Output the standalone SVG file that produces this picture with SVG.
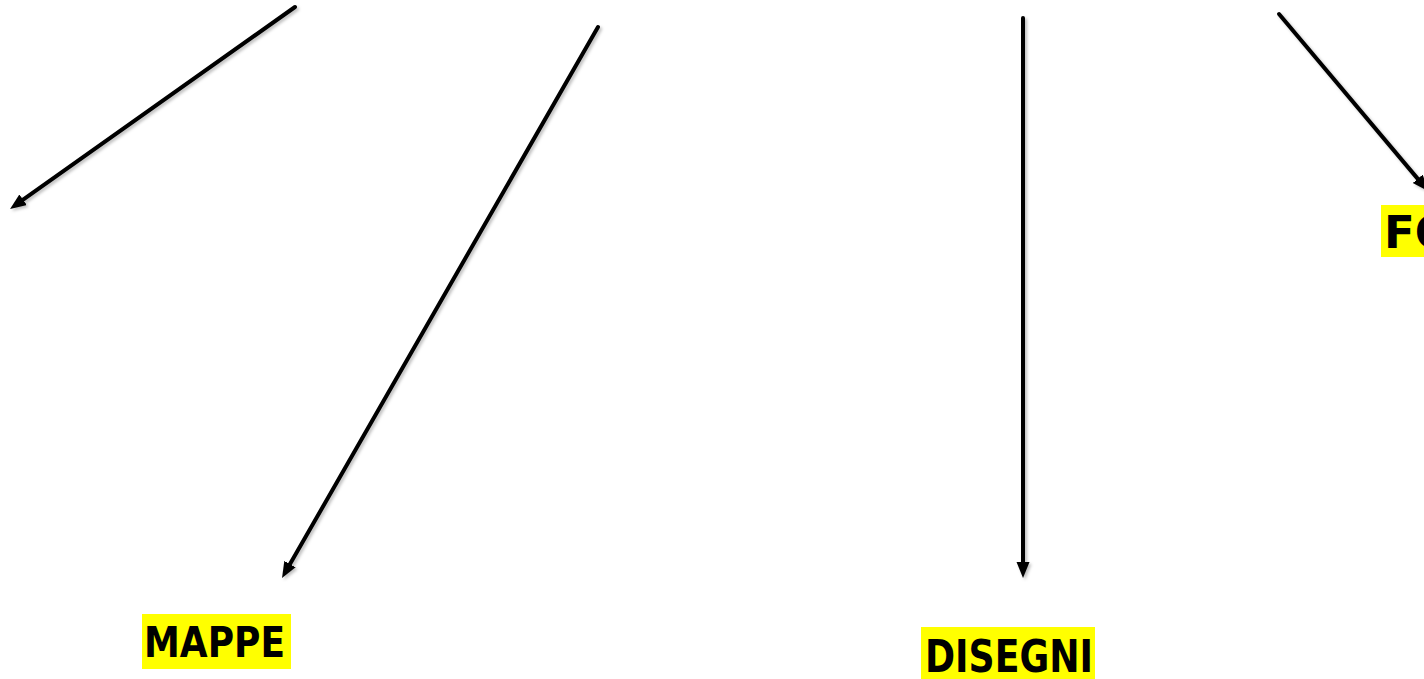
<svg xmlns="http://www.w3.org/2000/svg" width="1424" height="679" viewBox="0 0 1424 679">
  <style>
    .conn { stroke: #000; stroke-width: 4; fill: none; stroke-linecap: round; marker-end: url(#arrow); filter: url(#shadow); }
    .hl { fill: #ffff00; }
    .lbl { font-family: "DejaVu Sans", "Liberation Sans", sans-serif; font-weight: bold; fill: #000; }
  </style>
  <defs>
    <marker id="arrow" markerUnits="userSpaceOnUse" markerWidth="18" markerHeight="14" refX="6" refY="6.5" orient="auto">
      <path d="M0,0 L16,6.5 L0,13 z" fill="#000"/>
    </marker>
    <filter id="shadow" filterUnits="userSpaceOnUse" x="0" y="0" width="1424" height="679">
      <feDropShadow dx="2" dy="2" stdDeviation="1.5" flood-color="#000" flood-opacity="0.25"/>
    </filter>
  </defs>
  <rect width="1424" height="679" fill="#fff"/>
  <g id="connectors">
    <path class="conn" d="M295,7 L18.2,203.2"/>
    <path class="conn" d="M598,27 L287,569.3"/>
    <path class="conn" d="M1023,18 L1023,568"/>
    <path class="conn" d="M1279,14 L1421.6,183.4"/>
  </g>
  <g id="mappe">
    <rect class="hl" x="142" y="614" width="149" height="55"/>
    <text class="lbl" x="144" y="657" font-size="43" textLength="141" lengthAdjust="spacingAndGlyphs">MAPPE</text>
  </g>
  <g id="disegni">
    <rect class="hl" x="921" y="627" width="174" height="52"/>
    <text class="lbl" x="925" y="672" font-size="45" textLength="168" lengthAdjust="spacingAndGlyphs">DISEGNI</text>
  </g>
  <g id="fo">
    <rect class="hl" x="1381" y="205" width="43" height="52"/>
    <text class="lbl" x="1384" y="248" font-size="45">FO</text>
  </g>
</svg>
